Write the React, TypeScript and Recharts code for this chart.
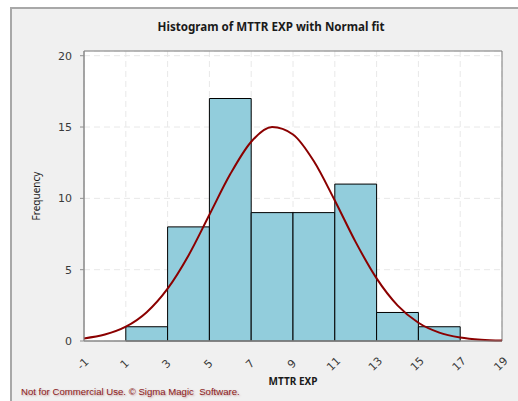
import React from 'react';
import { ComposedChart, XAxis, YAxis, CartesianGrid, Line, ReferenceArea, Label } from 'recharts';

const binStarts = [1, 3, 5, 7, 9, 11, 13, 15];
const binEnds = [3, 5, 7, 9, 11, 13, 15, 17];
const binCounts = [1, 8, 17, 9, 9, 11, 2, 1];

const curveX = [-1, 0, 1, 2, 3, 4, 5, 6, 7, 8, 9, 10, 11, 12, 13, 14, 15, 16, 17, 18, 19];
const curveY = [0.18, 0.45, 1.0, 2.02, 3.67, 6.0, 8.85, 11.7, 13.97, 15.0, 14.48, 12.6, 9.85, 6.93, 4.39, 2.5, 1.28, 0.59, 0.25, 0.09, 0.03];

const xTicks = [-1, 1, 3, 5, 7, 9, 11, 13, 15, 17, 19];
const yTicks = [0, 5, 10, 15, 20];

const title = 'Histogram of MTTR EXP with Normal fit';
const xLabel = 'MTTR EXP';
const yLabel = 'Frequency';
const footer = 'Not for Commercial Use. \u00A9 Sigma Magic  Software.';

const data = curveX.map((x, i) => ({ x, y: curveY[i] }));

const XTick = (props: any) => {
  const { x, y, payload } = props;
  const cx = x - 1;
  const cy = y + 15;
  return (
    <text
      x={cx}
      y={cy}
      transform={`rotate(-45, ${cx}, ${cy})`}
      textAnchor="middle"
      dominantBaseline="central"
      fontSize={11}
      fontFamily="DejaVu Sans"
      fill="#3a3a3a"
    >
      {payload.value}
    </text>
  );
};

export default function App() {
  return (
    <div style={{ position: 'absolute', left: 0, top: 0, width: 518, height: 401, overflow: 'hidden' }}>
      <div
        style={{
          position: 'absolute',
          left: 10,
          top: 7,
          width: 508,
          height: 394,
          boxSizing: 'border-box',
          background: '#f0f0f0',
          borderLeft: '2px solid #a8a8a8',
          borderTop: '2px solid #a8a8a8',
        }}
      />
      <div
        style={{
          position: 'absolute',
          left: 0,
          width: 542,
          top: 19,
          textAlign: 'center',
          fontFamily: 'Noto Sans',
          fontWeight: 'bold',
          fontSize: 11.6,
          color: '#1a1a1a',
        }}
      >
        {title}
      </div>
      <div style={{ position: 'absolute', left: 0, top: 0 }}>
        <ComposedChart
          width={518}
          height={401}
          data={data}
          margin={{ top: 51, right: 16, bottom: 0, left: 0 }}
        >
          <CartesianGrid fill="#ffffff" stroke="#e8e8e8" strokeDasharray="6 4" />
          <XAxis
            dataKey="x"
            type="number"
            domain={[-1, 19]}
            ticks={xTicks}
            interval={0}
            height={60}
            tick={<XTick />}
            tickLine={false}
            axisLine={{ stroke: '#909090' }}
          >
            <Label value={xLabel} position="center" dy={10} fontSize={10} fontWeight="bold" fontFamily="Noto Sans" fill="#1a1a1a" />
          </XAxis>
          <YAxis
            type="number"
            domain={[0, 20.33]}
            ticks={yTicks}
            interval={0}
            width={84}
            tickSize={4}
            tickMargin={8}
            tick={{ fontSize: 11, fontFamily: 'DejaVu Sans', fill: '#3a3a3a' }}
            tickLine={{ stroke: '#909090' }}
            axisLine={{ stroke: '#909090' }}
          >
            <Label value={yLabel} position="center" angle={-90} dx={-6} fontSize={10} fontFamily="Noto Sans" fill="#1a1a1a" />
          </YAxis>
          {binStarts.map((s, i) => (
            <ReferenceArea
              key={i}
              x1={s}
              x2={binEnds[i]}
              y1={0}
              y2={binCounts[i]}
              fill="#92cddc"
              fillOpacity={1}
              stroke="#000000"
              strokeWidth={1}
              ifOverflow="visible"
            />
          ))}
          <Line
            dataKey="y"
            type="monotone"
            stroke="#8b0000"
            strokeWidth={2}
            dot={false}
            isAnimationActive={false}
          />
          <ReferenceArea x1={-1} x2={19} fill="none" stroke="#7a7a7a" strokeWidth={1} ifOverflow="visible" />
        </ComposedChart>
      </div>
      <div
        style={{
          position: 'absolute',
          left: 21,
          top: 386,
          fontFamily: 'Liberation Sans',
          fontSize: 9.6,
          color: '#8b1a1a',
          textShadow: '1px 1px 2px rgba(120,0,0,0.35)',
          whiteSpace: 'pre',
        }}
      >
        {footer}
      </div>
    </div>
  );
}
